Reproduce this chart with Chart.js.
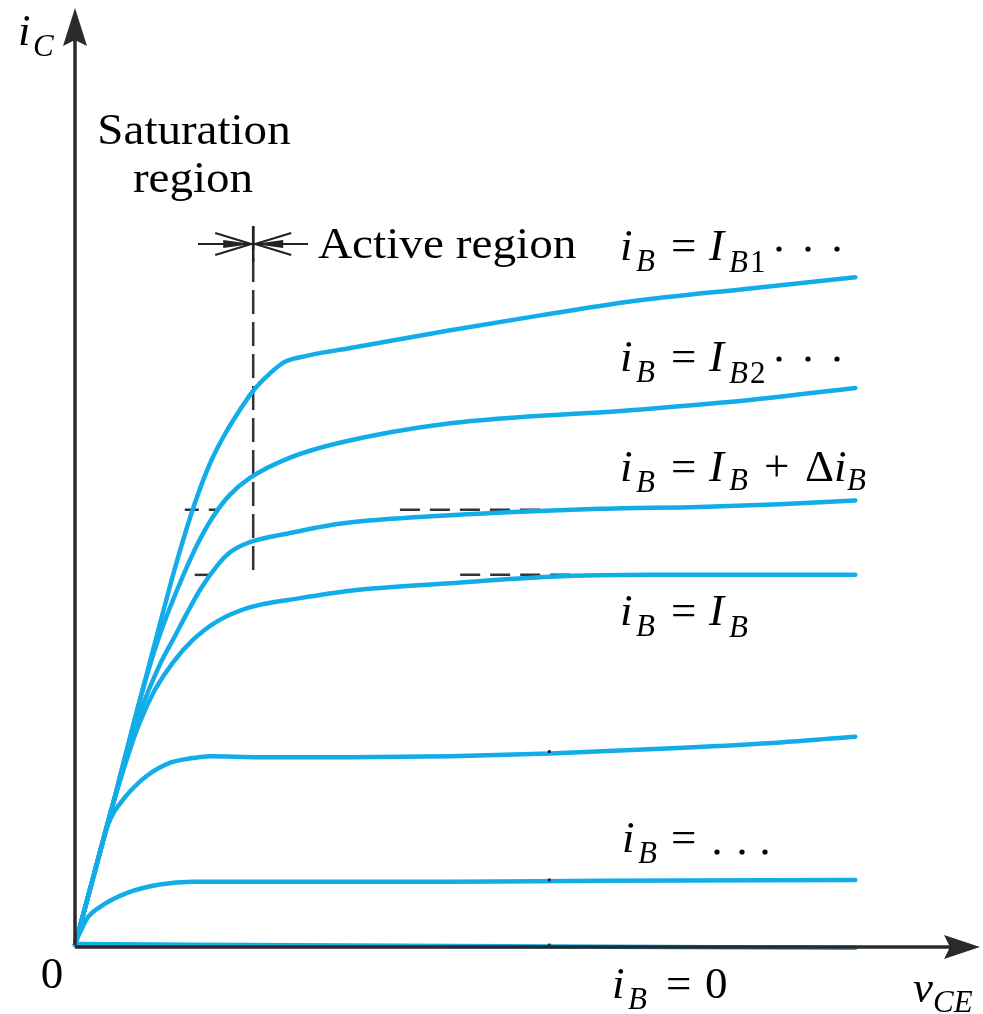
<!DOCTYPE html>
<html>
<head>
<meta charset="utf-8">
<script src="https://cdn.jsdelivr.net/npm/chart.js@4.4.1/dist/chart.umd.min.js"></script>
<style>
  html, body { margin: 0; padding: 0; background: #fff; }
  canvas { display: block; }
</style>
</head>
<body>
<canvas id="c" width="983" height="1014"></canvas>
<script>
// ---- Data (vCE in arbitrary units on x, iC in arbitrary units on y) ----
const curveIB1_x = [0, 0.17, 0.42, 0.72, 0.94, 1.11, 1.28, 1.39, 1.52, 1.67, 1.83, 1.98, 2.17, 2.33, 2.50, 3.06, 4.17, 5.17, 6.17, 7.50, 8.67];
const curveIB1_y = [0, 0.61, 1.51, 2.63, 3.44, 4.05, 4.60, 4.91, 5.22, 5.50, 5.75, 5.96, 6.15, 6.27, 6.32, 6.42, 6.61, 6.77, 6.92, 7.06, 7.18];

const curveIB2_x = [0, 0.17, 0.42, 0.72, 0.83, 0.94, 1.06, 1.20, 1.36, 1.53, 1.72, 1.94, 2.39, 2.94, 4.17, 6.17, 7.50, 8.67];
const curveIB2_y = [0, 0.61, 1.51, 2.63, 3.00, 3.33, 3.64, 3.97, 4.31, 4.60, 4.84, 5.02, 5.24, 5.40, 5.61, 5.75, 5.86, 5.99];

const curveIBd_x = [0, 0.17, 0.42, 0.56, 0.72, 0.94, 1.11, 1.24, 1.39, 1.58, 1.72, 1.91, 2.39, 2.94, 4.17, 5.83, 6.94, 7.83, 8.67];
const curveIBd_y = [0, 0.61, 1.51, 1.97, 2.49, 3.01, 3.32, 3.56, 3.82, 4.08, 4.22, 4.32, 4.43, 4.53, 4.62, 4.69, 4.71, 4.74, 4.78];

const curveIB_x = [0, 0.17, 0.42, 0.56, 0.67, 0.78, 0.91, 1.09, 1.31, 1.58, 1.94, 2.50, 3.06, 4.17, 5.28, 6.39, 8.67];
const curveIB_y = [0, 0.61, 1.51, 1.95, 2.27, 2.53, 2.78, 3.04, 3.28, 3.48, 3.63, 3.73, 3.81, 3.89, 3.96, 3.98, 3.98];

const curve5_x = [0, 0.17, 0.37, 0.44, 0.50, 0.61, 0.80, 1.06, 1.31, 1.50, 2.06, 3.06, 4.17, 5.28, 6.76, 7.87, 8.67];
const curve5_y = [0, 0.61, 1.30, 1.44, 1.52, 1.65, 1.82, 1.96, 2.01, 2.03, 2.02, 2.02, 2.03, 2.06, 2.12, 2.18, 2.24];

const curve6_x = [0, 0.03, 0.08, 0.13, 0.28, 0.58, 0.94, 1.31, 2.06, 4.17, 5.83, 8.67];
const curve6_y = [0, 0.08, 0.18, 0.28, 0.41, 0.56, 0.65, 0.68, 0.68, 0.68, 0.69, 0.70];

const curve0_x = [0, 4.17, 8.67];
const curve0_y = [0.01, -0.01, -0.03];

// dashed guide lines
const satBoundary_x = [1.98, 1.98];
const satBoundary_y = [7.73, 3.96];
const guideA1_x = [1.22, 1.58], guideA1_y = [4.68, 4.68];
const guideA2_x = [3.61, 5.28], guideA2_y = [4.68, 4.68];
const guideB1_x = [1.33, 1.52], guideB1_y = [3.98, 3.98];
const guideB2_x = [4.28, 5.61], guideB2_y = [3.98, 3.98];

// small tick marks
const tick_x = [5.27, 5.27, 5.27];
const tick_y = [2.08, 0.70, 0.00];

// axis ranges
const xRange = [0, 10];
const yRange = [0, 10];

// ---- build ----
const pts = (xs, ys) => xs.map((x, i) => ({x, y: ys[i]}));
const BLUE = '#12ADE9';
const curve = (xs, ys) => ({
  data: pts(xs, ys), showLine: true, borderColor: BLUE, borderWidth: 4.5,
  pointRadius: 0, cubicInterpolationMode: 'monotone', fill: false, clip: false, order: 1,
  borderCapStyle: 'round', borderJoinStyle: 'round'
});
const dashed = (xs, ys, dash) => ({
  data: pts(xs, ys), showLine: true, borderColor: '#333', borderWidth: 2.5,
  borderDash: dash, pointRadius: 0, fill: false, clip: false, order: 2
});

const SERIF = '"Liberation Serif", "DejaVu Serif", serif';

function txt(ctx, s, x, y, font, align, sx) {
  ctx.save();
  ctx.font = font;
  ctx.textAlign = align || 'left';
  ctx.textBaseline = 'alphabetic';
  ctx.translate(x, y);
  ctx.scale(sx || 1, 1);
  ctx.fillText(s, 0, 0);
  ctx.restore();
}
function dot(ctx, x, y) {
  ctx.beginPath(); ctx.arc(x, y, 2.6, 0, Math.PI * 2); ctx.fill();
}

const decor = {
  id: 'decor',
  afterDraw(chart) {
    const ctx = chart.ctx;
    const xs = chart.scales.x, ys = chart.scales.y;
    const ox = xs.getPixelForValue(0), oy = ys.getPixelForValue(0);
    const AX = '#2a2a2a';
    ctx.save();
    // y axis
    ctx.strokeStyle = AX; ctx.fillStyle = AX; ctx.lineWidth = 3.5;
    ctx.beginPath(); ctx.moveTo(ox, oy); ctx.lineTo(ox, 40); ctx.stroke();
    ctx.beginPath(); ctx.moveTo(ox, 8); ctx.lineTo(ox + 12, 46); ctx.lineTo(ox, 40); ctx.lineTo(ox - 12, 46); ctx.closePath(); ctx.fill();
    // x axis
    const ay = oy + 2;
    ctx.beginPath(); ctx.moveTo(ox, ay); ctx.lineTo(950, ay); ctx.stroke();
    ctx.beginPath(); ctx.moveTo(980, ay); ctx.lineTo(944, ay - 12); ctx.lineTo(950, ay); ctx.lineTo(944, ay + 12); ctx.closePath(); ctx.fill();

    // active-region arrows
    const bx = xs.getPixelForValue(satBoundary_x[0]);
    const by = 244;
    ctx.strokeStyle = '#222'; ctx.fillStyle = '#222'; ctx.lineWidth = 2.5;
    ctx.beginPath(); ctx.moveTo(bx, 226); ctx.lineTo(bx, 262); ctx.stroke();
    ctx.lineWidth = 2.2;
    ctx.beginPath(); ctx.moveTo(198, by); ctx.lineTo(bx, by); ctx.stroke();
    ctx.beginPath(); ctx.moveTo(bx, by); ctx.lineTo(308, by); ctx.stroke();
    ctx.beginPath(); ctx.moveTo(bx - 2, by); ctx.lineTo(bx - 38, by - 11); ctx.moveTo(bx - 2, by); ctx.lineTo(bx - 38, by + 11); ctx.stroke();
    ctx.beginPath(); ctx.moveTo(bx - 1, by); ctx.lineTo(bx - 30, by - 4); ctx.lineTo(bx - 30, by + 4); ctx.closePath(); ctx.fill();
    ctx.beginPath(); ctx.moveTo(bx + 2, by); ctx.lineTo(bx + 38, by - 11); ctx.moveTo(bx + 2, by); ctx.lineTo(bx + 38, by + 11); ctx.stroke();
    ctx.beginPath(); ctx.moveTo(bx + 1, by); ctx.lineTo(bx + 30, by - 4); ctx.lineTo(bx + 30, by + 4); ctx.closePath(); ctx.fill();

    // texts
    ctx.fillStyle = '#000';
    const M = 'italic 45px ' + SERIF, S = 'italic 31px ' + SERIF, SU = '31px ' + SERIF, N = '45px ' + SERIF;
    txt(ctx, 'i', 18, 45, M); txt(ctx, 'C', 33, 56, S);
    txt(ctx, 'Saturation', 194, 144, '45px ' + SERIF, 'center', 1.045);
    txt(ctx, 'region', 193, 192, '45px ' + SERIF, 'center', 1.045);
    txt(ctx, 'Active region', 318, 258, '45px ' + SERIF, 'left', 1.05);

    function head(base, x0) {
      x0 = x0 || 620;
      txt(ctx, 'i', x0, base, M);
      txt(ctx, 'B', x0 + 16, base + 11, S);
      txt(ctx, '=', 671, base, N);
    }
    head(260);
    txt(ctx, 'I', 709, 260, M); txt(ctx, 'B', 729, 272, S); txt(ctx, '1', 750, 272, SU);
    dot(ctx, 779, 249); dot(ctx, 808, 249); dot(ctx, 837, 249);
    head(371);
    txt(ctx, 'I', 709, 371, M); txt(ctx, 'B', 729, 383, S); txt(ctx, '2', 750, 383, SU);
    dot(ctx, 779, 359); dot(ctx, 808, 359); dot(ctx, 837, 359);
    head(481);
    txt(ctx, 'I', 709, 481, M); txt(ctx, 'B', 729, 490, S);
    txt(ctx, '+', 764, 481, N);
    txt(ctx, 'Δ', 805, 481, N);
    txt(ctx, 'i', 834, 481, M); txt(ctx, 'B', 847, 490, S);
    head(625);
    txt(ctx, 'I', 709, 625, M); txt(ctx, 'B', 729, 637, S);
    head(852, 622);
    dot(ctx, 717, 852); dot(ctx, 742, 852); dot(ctx, 765, 852);
    txt(ctx, 'i', 612, 998, M); txt(ctx, 'B', 628, 1009, S);
    txt(ctx, '=', 666, 998, N); txt(ctx, '0', 705, 998, N);
    txt(ctx, '0', 52, 988, N, 'center');
    txt(ctx, 'v', 913, 1002, M); txt(ctx, 'CE', 933, 1012, S);
    ctx.restore();
  }
};

new Chart(document.getElementById('c'), {
  type: 'scatter',
  data: {
    datasets: [
      curve(curveIB1_x, curveIB1_y),
      curve(curveIB2_x, curveIB2_y),
      curve(curveIBd_x, curveIBd_y),
      curve(curveIB_x, curveIB_y),
      curve(curve5_x, curve5_y),
      curve(curve6_x, curve6_y),
      curve(curve0_x, curve0_y),
      dashed(satBoundary_x, satBoundary_y, [24, 8]),
      dashed(guideA1_x, guideA1_y, [14, 10]),
      dashed(guideA2_x, guideA2_y, [20, 10]),
      dashed(guideB1_x, guideB1_y, [14, 10]),
      dashed(guideB2_x, guideB2_y, [20, 10]),
      { data: pts(tick_x, tick_y), showLine: false, pointStyle: 'rect', pointRadius: 2,
        backgroundColor: '#222', borderColor: '#222', borderWidth: 0, clip: false, order: 0 }
    ]
  },
  options: {
    responsive: false,
    devicePixelRatio: 1,
    animation: false,
    layout: { padding: { left: 75, top: 15, right: 8, bottom: 69 } },
    plugins: { legend: { display: false }, tooltip: { enabled: false } },
    scales: {
      x: { type: 'linear', min: xRange[0], max: xRange[1], display: false },
      y: { type: 'linear', min: yRange[0], max: yRange[1], display: false }
    }
  },
  plugins: [decor]
});
</script>
</body>
</html>
